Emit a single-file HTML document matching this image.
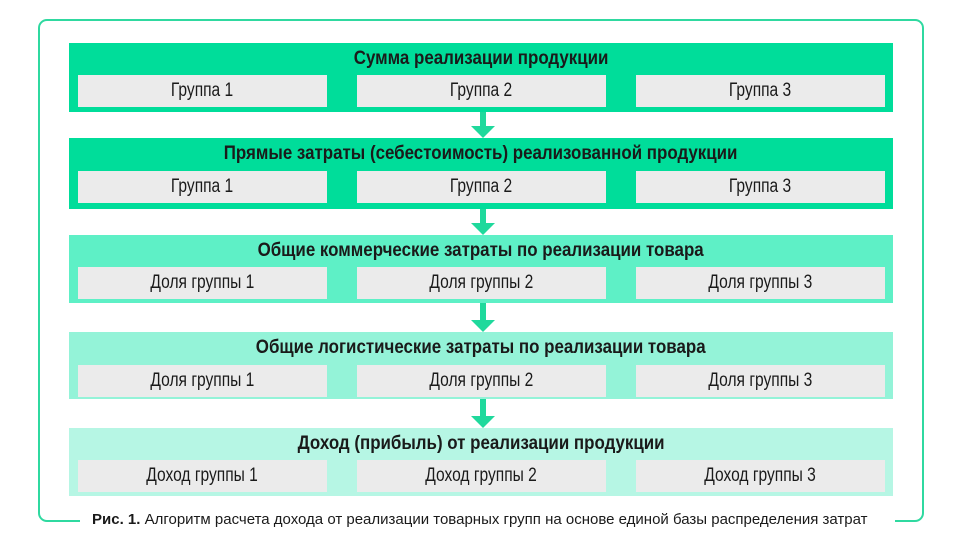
<!DOCTYPE html><html><head><meta charset="utf-8"><style>
body{margin:0;width:960px;height:544px;background:#fff;position:relative;overflow:hidden;font-family:"Liberation Sans",sans-serif;color:#1a1a1a}
.frame{position:absolute;left:38px;top:19px;width:882px;height:499px;border:2px solid #2fd9a0;border-radius:9px}
.gap{position:absolute;left:80px;top:510px;width:815px;height:20px;background:#fff}
.band{position:absolute;left:69px;width:824px}
.t{position:absolute;left:0;width:824px;text-align:center;font-weight:bold;font-size:19px;top:5px}
.t span{display:inline-block;transform:scaleX(0.89)}
.s span{display:inline-block;transform:scaleX(0.82)}
.s{position:absolute;height:32px;width:249px;background:#ebebeb;text-align:center;line-height:32px;font-size:19px}
.arr{position:absolute;left:471px;width:24px}
.stem{position:absolute;left:9px;width:6px;background:#1fd99c}
.head{position:absolute;left:0;width:0;height:0;border-left:12px solid transparent;border-right:12px solid transparent;border-top:12px solid #1fd99c}
.cap{position:absolute;left:92px;top:511px;font-size:15px;white-space:nowrap}
</style></head><body>
<div class="frame"></div><div class="gap"></div>
<div class="cap"><b>Рис. 1.</b> Алгоритм расчета дохода от реализации товарных групп на основе единой базы распределения затрат</div>

<div class="band" style="top:43px;height:69px;background:#00dd9a">
<div class="t"><span>Сумма реализации продукции</span></div>
<div class="s" style="left:9px;top:32px"><span>Группа 1</span></div>
<div class="s" style="left:288px;top:32px"><span>Группа 2</span></div>
<div class="s" style="left:567px;top:32px"><span>Группа 3</span></div>
</div>
<div class="arr" style="top:112px"><div class="stem" style="top:0;height:14px"></div><div class="head" style="top:14px"></div></div>

<div class="band" style="top:138px;height:71px;background:#00dd9a">
<div class="t"><span>Прямые затраты (себестоимость) реализованной продукции</span></div>
<div class="s" style="left:9px;top:33px"><span>Группа 1</span></div>
<div class="s" style="left:288px;top:33px"><span>Группа 2</span></div>
<div class="s" style="left:567px;top:33px"><span>Группа 3</span></div>
</div>
<div class="arr" style="top:209px"><div class="stem" style="top:0;height:14px"></div><div class="head" style="top:14px"></div></div>

<div class="band" style="top:235px;height:68px;background:#5ef0c6">
<div class="t"><span>Общие коммерческие затраты по реализации товара</span></div>
<div class="s" style="left:9px;top:32px"><span>Доля группы 1</span></div>
<div class="s" style="left:288px;top:32px"><span>Доля группы 2</span></div>
<div class="s" style="left:567px;top:32px"><span>Доля группы 3</span></div>
</div>
<div class="arr" style="top:303px"><div class="stem" style="top:0;height:17px"></div><div class="head" style="top:17px"></div></div>

<div class="band" style="top:332px;height:67px;background:#94f3d8">
<div class="t"><span>Общие логистические затраты по реализации товара</span></div>
<div class="s" style="left:9px;top:33px"><span>Доля группы 1</span></div>
<div class="s" style="left:288px;top:33px"><span>Доля группы 2</span></div>
<div class="s" style="left:567px;top:33px"><span>Доля группы 3</span></div>
</div>
<div class="arr" style="top:399px"><div class="stem" style="top:0;height:17px"></div><div class="head" style="top:17px"></div></div>

<div class="band" style="top:428px;height:68px;background:#b6f6e4">
<div class="t"><span>Доход (прибыль) от реализации продукции</span></div>
<div class="s" style="left:9px;top:32px"><span>Доход группы 1</span></div>
<div class="s" style="left:288px;top:32px"><span>Доход группы 2</span></div>
<div class="s" style="left:567px;top:32px"><span>Доход группы 3</span></div>
</div>
</body></html>
